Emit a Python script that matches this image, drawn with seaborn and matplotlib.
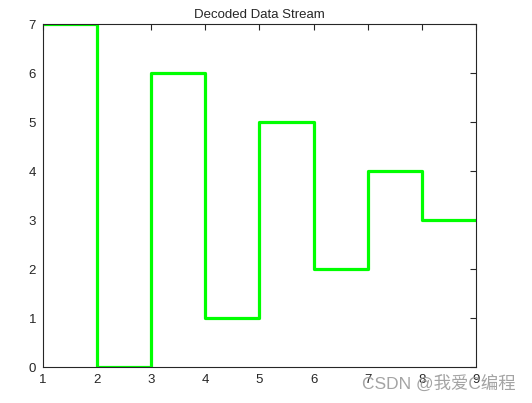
import numpy as np
import pandas as pd
import matplotlib
matplotlib.use('Agg')
import matplotlib.pyplot as plt
import seaborn as sns

# データ
x_vals = [1, 2, 3, 4, 5, 6, 7, 8, 9]
y_vals = [7, 0, 6, 1, 5, 2, 4, 3, 3]
df = pd.DataFrame({'x': x_vals, 'y': y_vals})

sns.set_style('white')
plt.rcParams['font.family'] = ['Liberation Sans', 'Noto Sans CJK SC', 'DejaVu Sans']

fig = plt.figure(figsize=(5.32, 4.03), dpi=100)
ax = fig.add_axes([0.0808, 0.0893, 0.8139, 0.8511])

sns.lineplot(data=df, x='x', y='y', ax=ax, color='#00ff00', linewidth=2.3,
             drawstyle='steps-post', estimator=None)

ax.set_xlim(1, 9)
ax.set_ylim(0, 7)
ax.set_xticks(range(1, 10))
ax.set_yticks(range(0, 8))
ax.set_xlabel('')
ax.set_ylabel('')
ax.set_title('Decoded Data Stream', fontsize=9.5, pad=4)
ax.tick_params(direction='in', length=4, width=0.8, top=True, right=True,
               labelsize=9.5, colors='#262626', pad=5)
for s in ax.spines.values():
    s.set_visible(True)
    s.set_color('#262626')
    s.set_linewidth(0.8)

# 透かし
fig.text(0.97, 0.028, 'CSDN @我爱C编程', ha='right', va='bottom',
         fontsize=12.5, color='#9a9a9a', alpha=0.9)

fig.savefig('out.png', dpi=100)
